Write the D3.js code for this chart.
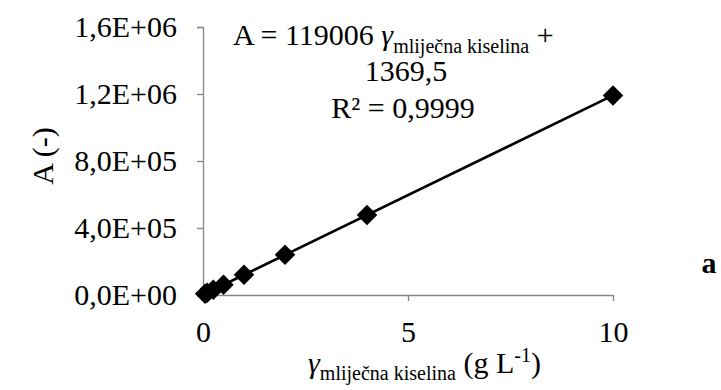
<!DOCTYPE html>
<html>
<head>
<meta charset="utf-8">
<script src="https://cdn.jsdelivr.net/npm/d3@7"></script>
<style>
  body { margin: 0; background: #fff; }
  text { font-family: "Liberation Serif", "Times New Roman", serif; fill: #000; }
</style>
</head>
<body>
<div id="plot"></div>
<script>
// concentration of lactic acid (g/L) and peak area
var conc = [0.05, 0.1, 0.25, 0.5, 1, 2, 4, 10];
var area = [7000, 13500, 31000, 61000, 121000, 240000, 478000, 1191000];
var yTicks = [0, 400000, 800000, 1200000, 1600000];
var xTicks = [0, 5, 10];
var slope = 119006, intercept = 1369.5;

var width = 721, height = 390;
var fs = "30px", subFs = "20px";
var svg = d3.select("#plot").append("svg")
    .attr("width", width)
    .attr("height", height);

var x = d3.scaleLinear().domain([0, 10]).range([203, 613]);
var y = d3.scaleLinear().domain([0, 1600000]).range([295, 27]);

function fmtY(v) {
    if (v === 0) return "0,0E+00";
    var e = Math.floor(Math.log10(v));
    var m = v / Math.pow(10, e);
    return m.toFixed(1).replace(".", ",") + "E+" + (e < 10 ? "0" : "") + e;
}

var axisColor = "#868686";

// y axis
var gy = svg.append("g")
    .attr("transform", "translate(203,0)")
    .call(d3.axisLeft(y).tickValues(yTicks).tickSize(6).tickPadding(20).tickFormat(fmtY));
gy.select(".domain").attr("stroke", axisColor).attr("stroke-width", 1.3);
gy.selectAll("line").attr("stroke", axisColor).attr("stroke-width", 1.3);
gy.selectAll("text")
    .attr("font-size", fs)
    .attr("font-family", "Liberation Serif")
    .attr("fill", "#000");

// x axis
var gx = svg.append("g")
    .attr("transform", "translate(0,295)")
    .call(d3.axisBottom(x).tickValues(xTicks).tickSize(6).tickSizeOuter(0).tickPadding(20).tickFormat(d3.format("d")));
gx.select(".domain").attr("stroke", axisColor).attr("stroke-width", 1.3);
gx.selectAll("line").attr("stroke", axisColor).attr("stroke-width", 1.3);
gx.selectAll("text")
    .attr("font-size", fs)
    .attr("font-family", "Liberation Serif")
    .attr("fill", "#000");

// trend line
var xr = d3.extent(conc);
svg.append("line")
    .attr("x1", x(xr[0]))
    .attr("y1", y(slope * xr[0] + intercept))
    .attr("x2", x(xr[1]))
    .attr("y2", y(slope * xr[1] + intercept))
    .attr("stroke", "#000")
    .attr("stroke-width", 2.6);

// points
var sym = d3.symbol().type(d3.symbolSquare).size(210);
svg.selectAll(".pt")
    .data(conc)
    .enter().append("path")
    .attr("class", "pt")
    .attr("d", sym)
    .attr("fill", "#000")
    .attr("transform", function (d, i) {
        return "translate(" + x(d) + "," + y(area[i]) + ") rotate(45)";
    });

// y label
svg.append("text")
    .attr("transform", "translate(53,156) rotate(-90)")
    .attr("text-anchor", "middle")
    .attr("font-size", fs)
    .text("A (-)");

// x label
var xl = svg.append("text")
    .attr("x", 308)
    .attr("y", 373)
    .attr("font-size", fs);
xl.append("tspan").attr("font-style", "italic").text("γ");
xl.append("tspan").attr("font-size", subFs).attr("dy", 7).text("mliječna kiselina");
xl.append("tspan").attr("dy", -7).text(" (g L");
xl.append("tspan").attr("font-size", subFs).attr("dy", -11).text("-1");
xl.append("tspan").attr("dy", 11).text(")");

// equation
var eq1 = svg.append("text")
    .attr("x", 233)
    .attr("y", 45)
    .attr("font-size", fs);
eq1.append("tspan").text("A = 119006 ");
eq1.append("tspan").attr("font-style", "italic").text("γ");
eq1.append("tspan").attr("font-size", subFs).attr("dy", 8).text("mliječna kiselina");
eq1.append("tspan").attr("dy", -8).text(" +");

svg.append("text")
    .attr("x", 406)
    .attr("y", 81)
    .attr("text-anchor", "middle")
    .attr("font-size", fs)
    .text("1369,5");

svg.append("text")
    .attr("x", 403)
    .attr("y", 118)
    .attr("text-anchor", "middle")
    .attr("font-size", fs)
    .text("R² = 0,9999");

// panel letter
svg.append("text")
    .attr("x", 709)
    .attr("y", 273)
    .attr("text-anchor", "middle")
    .attr("font-size", fs)
    .attr("font-weight", "bold")
    .text("a");
</script>
</body>
</html>
